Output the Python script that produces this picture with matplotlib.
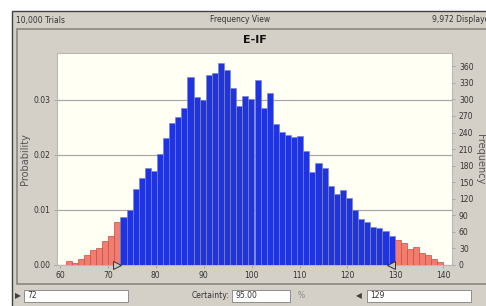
import matplotlib.pyplot as plt
import numpy as np
from matplotlib.patches import Rectangle

# Data (counts per bin)
trials = 10000
displayed = 9972
bin_lo, bin_hi = 61.2, 140.0
left_tail = [7, 4, 11, 19, 27, 31, 44, 53, 77]
middle = [87, 99, 137, 157, 176, 170, 201, 230, 257, 268, 284, 340, 304, 298, 344,
          347, 365, 353, 321, 288, 306, 301, 336, 285, 312, 256, 241, 236, 231, 234,
          207, 168, 184, 175, 144, 129, 136, 122, 100, 84, 78, 69, 67, 62, 53]
right_tail = [45, 39, 29, 33, 21, 18, 10, 6]
lower_cert, upper_cert, certainty = 72, 129, 95.00
x_ticks = [60, 70, 80, 90, 100, 110, 120, 130, 140]
prob_ticks = [0.00, 0.01, 0.02, 0.03]
freq_ticks = list(range(0, 361, 30))

W, H = 486, 306
GRAY = '#d4d0c8'
TXT = '#333333'

fig = plt.figure(figsize=(W / 100, H / 100), dpi=100, facecolor='white')


def px(x, y):
    return x / W, 1 - y / H


def box(x0, y0, x1, y1, fc, ec='none', lw=0.8, z=0):
    fx, fy = px(x0, y1)
    r = Rectangle((fx, fy), (x1 - x0) / W, (y1 - y0) / H, transform=fig.transFigure,
                  facecolor=fc, edgecolor=ec, linewidth=lw, zorder=z)
    fig.add_artist(r)


def label(x, y, s, **kw):
    fx, fy = px(x, y)
    kw.setdefault('fontsize', 5.5)
    kw.setdefault('color', TXT)
    kw.setdefault('va', 'center')
    fig.text(fx, fy, s, **kw)


# window background and panel
box(12, 11, 490, 310, GRAY, ec='#404040', lw=1.0, z=-3)
box(17, 29, 490, 284, GRAY, ec='#8a8780', lw=1.2, z=-2)

label(16, 20, '{:,} Trials'.format(trials))
label(240, 20, 'Frequency View', ha='center')
# the reference window is clipped at the right edge, so this label is cut there too
label(432, 20, '{:,} Displayed'.format(displayed), clip_on=False)

counts = np.array(left_tail + middle + right_tail, dtype=float)
edges = np.linspace(bin_lo, bin_hi, len(counts) + 1)
width = np.diff(edges)
prob = counts / displayed
n_left, n_mid = len(left_tail), len(middle)
colors = ['#f27c6e'] * n_left + ['#1f33e0'] * n_mid + ['#f27c6e'] * len(right_tail)
edgec = ['#c0504a'] * n_left + ['#7b86c9'] * n_mid + ['#c0504a'] * len(right_tail)

ax = fig.add_axes([57 / W, 1 - 265 / H, (452 - 57) / W, (265 - 53) / H])
ax.set_facecolor('#fffff4')
ax.bar(edges[:-1], prob, width=width, align='edge', color=colors,
       edgecolor=edgec, linewidth=0.5, zorder=3)

top_freq = 384
ax.set_ylim(0, top_freq / displayed)
ax.set_xlim(59.4, 141.8)
ax.set_yticks(prob_ticks)
ax.set_yticklabels(['{:.2f}'.format(t) for t in prob_ticks])
ax.set_xticks(x_ticks)
ax.yaxis.grid(True, color='#a8a8a8', linewidth=0.9, zorder=1)
ax.tick_params(labelsize=5.5, colors='#a0a0a0', labelcolor=TXT, length=2.5, width=0.6, pad=2)
for s in ax.spines.values():
    s.set_color('#b8b8b8')
    s.set_linewidth(0.8)
ax.set_ylabel('Probability', fontsize=7, color='#555555', labelpad=3)
ax.set_title('E-IF', fontsize=8, fontweight='bold', color='#111111', pad=7.5)

ax2 = ax.twinx()
ax2.set_ylim(0, top_freq)
ax2.set_yticks(freq_ticks)
ax2.tick_params(labelsize=5.5, colors='#a0a0a0', labelcolor=TXT, length=2.5, width=0.6, pad=2.5)
for s in ax2.spines.values():
    s.set_visible(False)
ax2.set_ylabel('Frequency', fontsize=7, color='#555555', rotation=-90, va='center')
ax2.yaxis.set_label_coords(1.07, 0.5)

# certainty grabbers
ax.plot([lower_cert], [0], marker='>', markersize=6, color='#c8c8c8',
        markeredgecolor='#303030', markeredgewidth=0.7, clip_on=False, zorder=5)
ax.plot([upper_cert], [0], marker='<', markersize=6, color='#c8c8c8',
        markeredgecolor='#303030', markeredgewidth=0.7, clip_on=False, zorder=5)

# bottom controls
fx, fy = px(18, 296)
fig.text(fx, fy, '\u25b6', fontsize=5.5, color='#404040', va='center', ha='center')
box(24, 290, 128, 302, 'white', ec='#808080', lw=0.6)
label(27, 296, str(lower_cert))
label(229, 296, 'Certainty:', ha='right')
box(232, 290, 290, 302, 'white', ec='#808080', lw=0.6)
label(235, 296, '{:.2f}'.format(certainty))
label(298, 296, '%', color='#888888')
fx, fy = px(359, 296)
fig.text(fx, fy, '\u25c0', fontsize=5.5, color='#404040', va='center', ha='center')
box(367, 290, 471, 302, 'white', ec='#808080', lw=0.6)
label(370, 296, str(upper_cert))

fig.savefig('out.png', dpi=100, facecolor=fig.get_facecolor())
